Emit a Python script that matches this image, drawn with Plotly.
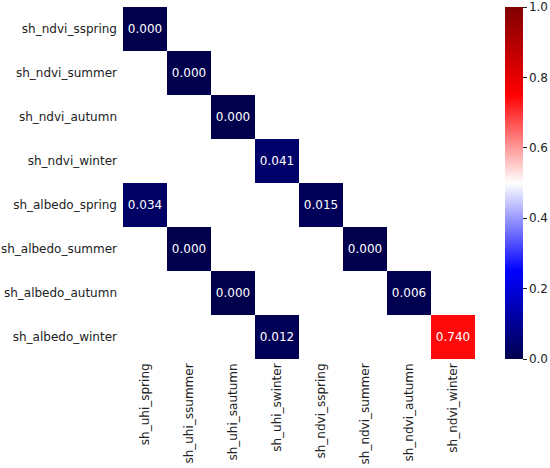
import plotly.graph_objects as go

# columns / rows of the significance matrix
x_labels = ['sh_uhi_spring', 'sh_uhi_ssummer', 'sh_uhi_sautumn', 'sh_uhi_swinter',
            'sh_ndvi_sspring', 'sh_ndvi_summer', 'sh_ndvi_autumn', 'sh_ndvi_winter']
y_labels = ['sh_ndvi_sspring', 'sh_ndvi_summer', 'sh_ndvi_autumn', 'sh_ndvi_winter',
            'sh_albedo_spring', 'sh_albedo_summer', 'sh_albedo_autumn', 'sh_albedo_winter']

N = None
z_values = [
    [0.000, N, N, N, N, N, N, N],
    [N, 0.000, N, N, N, N, N, N],
    [N, N, 0.000, N, N, N, N, N],
    [N, N, N, 0.041, N, N, N, N],
    [0.034, N, N, N, 0.015, N, N, N],
    [N, 0.000, N, N, N, 0.000, N, N],
    [N, N, 0.000, N, N, N, 0.006, N],
    [N, N, N, 0.012, N, N, N, 0.740],
]

cell_text = [['' if v is None else '%.3f' % v for v in row] for row in z_values]

seismic = [
    [0.0, 'rgb(0,0,77)'],
    [0.25, 'rgb(0,0,255)'],
    [0.5, 'rgb(255,255,255)'],
    [0.75, 'rgb(255,0,0)'],
    [1.0, 'rgb(128,0,0)'],
]

fig = go.Figure(go.Heatmap(
    z=z_values,
    x=x_labels,
    y=y_labels,
    text=cell_text,
    texttemplate='%{text}',
    textfont={'color': 'white', 'size': 12},
    colorscale=seismic,
    zmin=0, zmax=1,
    xgap=0, ygap=0,
    hoverinfo='skip',
    colorbar={
        'x': 1.085, 'xanchor': 'left', 'xref': 'paper', 'xpad': 0, 'ypad': 0,
        'y': 0.5, 'yanchor': 'middle', 'len': 1, 'lenmode': 'fraction',
        'thickness': 18, 'outlinewidth': 0,
        'tickvals': [0, 0.2, 0.4, 0.6, 0.8, 1.0],
        'ticktext': ['0.0', '0.2', '0.4', '0.6', '0.8', '1.0'],
        'ticks': 'outside', 'ticklen': 4, 'tickcolor': '#222',
        'tickfont': {'size': 12, 'color': '#222'},
    },
))

fig.update_layout(
    width=550, height=468,
    margin={'l': 123, 'r': 75, 't': 7, 'b': 109, 'autoexpand': False},
    paper_bgcolor='white', plot_bgcolor='white',
    font={'family': 'DejaVu Sans', 'size': 12, 'color': '#222'},
    xaxis={'tickangle': -90, 'showgrid': False, 'zeroline': False, 'ticks': '',
           'automargin': False, 'ticklabelstandoff': 1},
    yaxis={'autorange': 'reversed', 'showgrid': False, 'zeroline': False, 'ticks': '',
           'automargin': False, 'ticklabelstandoff': 5},
)

# page body has an 8px default margin; drop it so the figure sits at 0,0
fig.write_html('out.html', config={'displayModeBar': False},
               post_script="document.body.style.margin='0';")
